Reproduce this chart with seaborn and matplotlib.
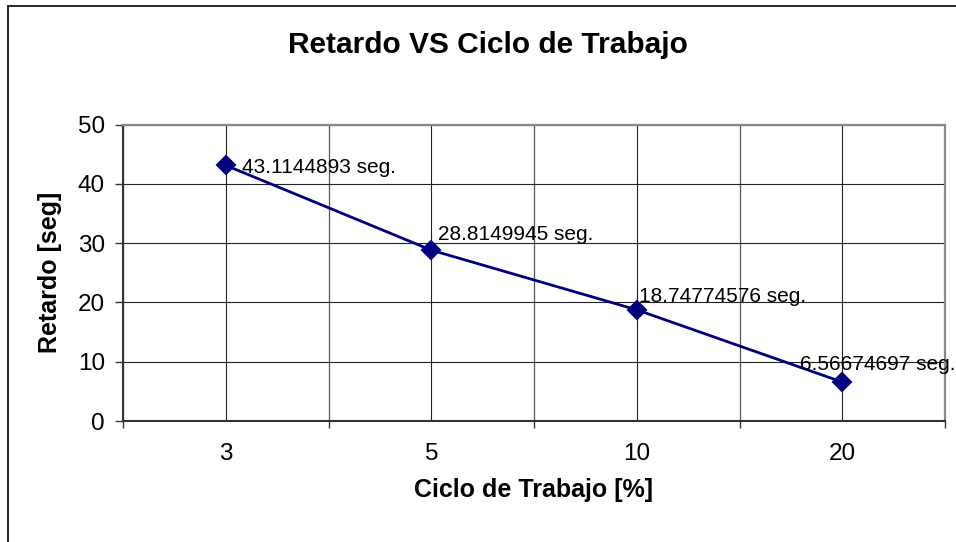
import matplotlib
matplotlib.use("Agg")
import matplotlib.pyplot as plt
from matplotlib.lines import Line2D
from matplotlib.ticker import FixedLocator
import seaborn as sns
import pandas as pd

# Duty cycle (%) and measured delay (s)
ciclo = ["3", "5", "10", "20"]
retardo = [43.1144893, 28.8149945, 18.74774576, 6.56674697]
etiquetas = ["43.1144893 seg.", "28.8149945 seg.", "18.74774576 seg.", "6.56674697 seg."]
y_ticks = [0, 10, 20, 30, 40, 50]

df = pd.DataFrame({"ciclo": ciclo, "retardo": retardo})

sns.set_theme(style="white")
plt.rcParams["font.family"] = ["Liberation Sans", "DejaVu Sans"]
plt.rcParams.update({"text.color": "black", "axes.labelcolor": "black",
                     "xtick.color": "black", "ytick.color": "black"})

W, H = 956, 542
fig = plt.figure(figsize=(W / 100, H / 100), dpi=100)
ax = fig.add_axes([123 / W, 1 - 421 / H, (945 - 123) / W, (421 - 124.5) / H])

navy = "#000080"
sns.pointplot(data=df, x="ciclo", y="retardo", order=ciclo, color=navy,
              markers="D", markersize=9.5, linewidth=2.0, errorbar=None, ax=ax)
for ln in ax.lines:
    ln.set_markeredgecolor(navy)
    ln.set_zorder(5)

ax.set_xlim(-0.5, len(ciclo) - 0.5)
ax.set_ylim(y_ticks[0], y_ticks[-1])
ax.yaxis.set_major_locator(FixedLocator(y_ticks))
ax.xaxis.set_minor_locator(FixedLocator([i - 0.5 for i in range(len(ciclo) + 1)]))

# gridlines at each category and between categories
ax.grid(True, which="major", axis="both", color="#222222", linewidth=0.8)
ax.grid(True, which="minor", axis="x", color="#555555", linewidth=0.9)
ax.set_axisbelow(True)

ax.tick_params(axis="y", which="major", direction="out", length=6, width=1.0,
               color="#333333", labelcolor="black", pad=7, labelsize=17.5, left=True)
ax.tick_params(axis="x", which="major", length=0, pad=16, labelsize=17.5,
               labelcolor="black")
ax.tick_params(axis="x", which="minor", direction="out", length=5, width=1.0,
               color="#333333", bottom=True)

for side in ("left", "bottom"):
    ax.spines[side].set_color("#333333")
    ax.spines[side].set_linewidth(1.5)
for side in ("top", "right"):
    ax.spines[side].set_color("#888888")
    ax.spines[side].set_linewidth(1.6)

ax.set_xlabel("Ciclo de Trabajo [%]", fontsize=18, fontweight="bold", color="black")
ax.set_ylabel("Retardo [seg]", fontsize=18, fontweight="bold", color="black")
ax.xaxis.label.set_va("baseline")
ax.xaxis.set_label_coords(0.5, (421 - 497) / (421 - 124.5))
ax.yaxis.label.set_va("center")
ax.yaxis.set_label_coords((50 - 123) / (945 - 123), 0.5)

# value labels next to each point
offsets = [(16, -8), (7, 10), (2, 8), (-42, 12)]
for i, (val, txt, off) in enumerate(zip(retardo, etiquetas, offsets)):
    ax.annotate(txt, xy=(i, val), xytext=off, textcoords="offset pixels",
                ha="left", va="baseline", fontsize=15, color="black",
                annotation_clip=False, zorder=6)

fig.text(487.5 / W, 1 - 53 / H, "Retardo VS Ciclo de Trabajo",
         ha="center", va="baseline", fontsize=21.5, fontweight="bold", color="black")

# chart frame
fig.add_artist(Line2D([8 / W, 8 / W], [0, 1 - 6 / H], transform=fig.transFigure,
                      color="black", linewidth=1.2))
fig.add_artist(Line2D([8 / W, 1], [1 - 6 / H, 1 - 6 / H], transform=fig.transFigure,
                      color="black", linewidth=1.2))

fig.savefig("out.png", dpi=100)
